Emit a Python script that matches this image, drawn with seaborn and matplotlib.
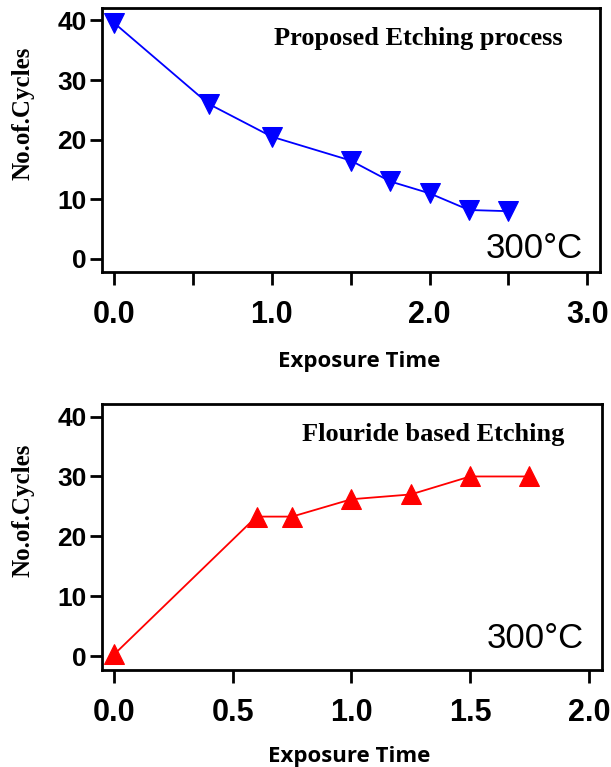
import matplotlib
matplotlib.use("Agg")
import matplotlib.pyplot as plt
import seaborn as sns

# values
time_proposed = [0.0, 0.6, 1.0, 1.5, 1.75, 2.0, 2.25, 2.5]
cycles_proposed = [39.6, 26.0, 20.5, 16.5, 13.0, 11.0, 8.2, 8.0]

time_fluoride = [0.0, 0.6, 0.75, 1.0, 1.25, 1.5, 1.75]
cycles_fluoride = [0.3, 23.3, 23.3, 26.2, 27.0, 30.0, 30.0]

top_xticks = [0.0, 0.5, 1.0, 1.5, 2.0, 2.5, 3.0]
top_xlabels = ["0.0", "", "1.0", "", "2.0", "", "3.0"]
bottom_xticks = [0.0, 0.5, 1.0, 1.5, 2.0]
bottom_xlabels = ["0.0", "0.5", "1.0", "1.5", "2.0"]
yticks = [0, 10, 20, 30, 40]

sns.set_style("ticks")
plt.rcParams["font.family"] = ["Liberation Sans", "DejaVu Sans"]
plt.rcParams["text.color"] = "black"
plt.rcParams["axes.labelcolor"] = "black"
plt.rcParams["xtick.color"] = "black"
plt.rcParams["ytick.color"] = "black"

fig = plt.figure(figsize=(6.11, 7.67), dpi=100)
ax1 = fig.add_axes([0.167, 0.6454, 0.815, 0.3442])
ax2 = fig.add_axes([0.167, 0.1265, 0.818, 0.3468])


def style_axes(ax, xticks, xlabels, title):
    for sp in ax.spines.values():
        sp.set_visible(True)
        sp.set_linewidth(2.0)
        sp.set_color("black")
    ax.set_yticks(yticks)
    ax.set_xticks(xticks)
    ax.set_xticklabels(xlabels, fontsize=22, fontweight="bold")
    ax.set_yticklabels([str(v) for v in yticks], fontsize=19, fontweight="bold")
    ax.tick_params(axis="both", direction="out", length=9, width=2.0,
                   color="black", labelcolor="black")
    ax.tick_params(axis="x", pad=11)
    ax.tick_params(axis="y", pad=2)
    ax.set_ylabel("No.of.Cycles", fontsize=18, fontweight="bold",
                  family="Liberation Serif")
    ax.set_xlabel("Exposure Time", fontsize=16, fontweight="bold",
                  family="Open Sans")
    ax.text(0.925, 0.86, title, transform=ax.transAxes, ha="right", va="baseline",
            fontsize=19, fontweight="bold", family="Liberation Serif")


# top panel
sns.lineplot(x=time_proposed, y=cycles_proposed, ax=ax1, color="#0000ff",
             linewidth=1.3, marker="v", markersize=14, markeredgecolor="#0000ff")
style_axes(ax1, top_xticks, top_xlabels, "Proposed Etching process")
ax1.set_xlim(-0.076, 3.08)
ax1.set_ylim(-2.2, 42.1)
ax1.text(0.966, 0.053, "300°C", transform=ax1.transAxes, ha="right",
         va="baseline", fontsize=25)
ax1.yaxis.set_label_coords(-0.135, 0.6)
ax1.xaxis.set_label_coords(0.516, -0.30)

# bottom panel
sns.lineplot(x=time_fluoride, y=cycles_fluoride, ax=ax2, color="#ff0000",
             linewidth=1.3, marker="^", markersize=14, markeredgecolor="#ff0000")
style_axes(ax2, bottom_xticks, bottom_xlabels, "Flouride based Etching")
ax2.set_xlim(-0.051, 2.055)
ax2.set_ylim(-2.3, 42.1)
ax2.text(0.963, 0.083, "300°C", transform=ax2.transAxes, ha="right",
         va="baseline", fontsize=25)
ax2.yaxis.set_label_coords(-0.135, 0.6)
ax2.xaxis.set_label_coords(0.494, -0.285)

plt.savefig("out.png", dpi=100)
